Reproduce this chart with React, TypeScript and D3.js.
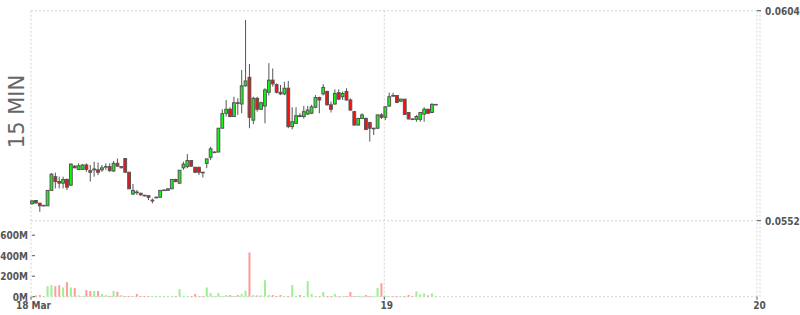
import React from "react";
import * as d3 from "d3";

// ---- data ----
const START = new Date(2024, 2, 18, 1, 15);
const END = new Date(2024, 2, 20, 0, 0);
const STEP_MINUTES = 15;

const open = [
  0.05562, 0.0557, 0.05563, 0.05557, 0.05557, 0.05595, 0.05629, 0.05617, 0.05613, 0.05622,
  0.05608, 0.05655, 0.05647, 0.05647, 0.05658, 0.05644, 0.05646, 0.05646, 0.05646, 0.05653,
  0.05654, 0.05643, 0.05662, 0.05651, 0.05674, 0.0564, 0.05586, 0.05591, 0.05588, 0.05583,
  0.05582, 0.05569, 0.05577, 0.05578, 0.05595, 0.05595, 0.05599, 0.05622, 0.05613, 0.05651,
  0.05654, 0.05669, 0.05652, 0.05652, 0.0564, 0.05662, 0.05677, 0.05689, 0.0569, 0.05749,
  0.05786, 0.05796, 0.05778, 0.05812, 0.05809, 0.05854, 0.05875, 0.05769, 0.05823, 0.05796,
  0.05804, 0.05838, 0.05868, 0.05857, 0.05838, 0.05834, 0.05848, 0.05753, 0.05761, 0.0578,
  0.05778, 0.05784, 0.05786, 0.05801, 0.05825, 0.05834, 0.0584, 0.05807, 0.05809, 0.05837,
  0.05827, 0.0584, 0.05819, 0.0579, 0.05757, 0.05773, 0.05773, 0.05763, 0.05748, 0.05749,
  0.05782, 0.05776, 0.05804, 0.0583, 0.0583, 0.05816, 0.05821, 0.05788, 0.05772, 0.05771,
  0.05771, 0.05784, 0.05796, 0.05788, 0.05808,
];
const high = [
  0.05571, 0.05571, 0.05565, 0.05559, 0.05595, 0.05638, 0.05639, 0.05629, 0.05629, 0.05625,
  0.05662, 0.05658, 0.05662, 0.0566, 0.05662, 0.05658, 0.05666, 0.05664, 0.05658, 0.05662,
  0.05662, 0.05668, 0.05674, 0.05655, 0.05674, 0.0564, 0.05611, 0.05596, 0.05589, 0.05584,
  0.05582, 0.05575, 0.0558, 0.05595, 0.05597, 0.056, 0.05622, 0.05624, 0.05645, 0.05666,
  0.05685, 0.0567, 0.05654, 0.05654, 0.05641, 0.05674, 0.05703, 0.05692, 0.05749, 0.05796,
  0.05819, 0.05801, 0.05827, 0.05823, 0.05893, 0.06017, 0.05908, 0.05827, 0.05827, 0.05815,
  0.05848, 0.0591, 0.05897, 0.0586, 0.05856, 0.05864, 0.05866, 0.05801, 0.05801, 0.05786,
  0.05804, 0.05804, 0.05807, 0.05831, 0.05827, 0.05858, 0.05842, 0.05815, 0.05845, 0.05845,
  0.0584, 0.05848, 0.05823, 0.05792, 0.05775, 0.05786, 0.05776, 0.05765, 0.0575, 0.05782,
  0.05786, 0.05804, 0.05837, 0.05837, 0.05831, 0.05822, 0.05821, 0.05788, 0.05773, 0.05782,
  0.05788, 0.05801, 0.05797, 0.05811, 0.05809,
];
const low = [
  0.0556, 0.05562, 0.05542, 0.05556, 0.05557, 0.05595, 0.056, 0.056, 0.056, 0.05596,
  0.05606, 0.0565, 0.05646, 0.05647, 0.05641, 0.05617, 0.05629, 0.05633, 0.05641, 0.05646,
  0.05641, 0.05641, 0.05654, 0.0565, 0.0564, 0.05599, 0.05584, 0.05584, 0.05582, 0.0558,
  0.05571, 0.05563, 0.05576, 0.05578, 0.05594, 0.05594, 0.05599, 0.05615, 0.05611, 0.05646,
  0.0565, 0.05654, 0.05638, 0.05633, 0.05627, 0.0565, 0.0567, 0.05688, 0.0569, 0.05749,
  0.05778, 0.05776, 0.05778, 0.05782, 0.05786, 0.05852, 0.05749, 0.05759, 0.0579, 0.05794,
  0.05761, 0.0583, 0.05852, 0.05835, 0.05831, 0.05831, 0.05749, 0.05746, 0.05761, 0.05776,
  0.05773, 0.05782, 0.05784, 0.05798, 0.05786, 0.0583, 0.05805, 0.05788, 0.05807, 0.05819,
  0.05819, 0.05817, 0.05792, 0.05755, 0.05755, 0.05772, 0.05745, 0.05716, 0.05732, 0.05747,
  0.05772, 0.05769, 0.05802, 0.05827, 0.05811, 0.05814, 0.05783, 0.05771, 0.05769, 0.05765,
  0.05765, 0.05765, 0.05784, 0.05786, 0.05807,
];
const close = [
  0.05569, 0.05564, 0.05557, 0.05558, 0.05595, 0.05635, 0.05617, 0.05613, 0.05622, 0.05603,
  0.0566, 0.05651, 0.05656, 0.05658, 0.05647, 0.0564, 0.05648, 0.0564, 0.05651, 0.05654,
  0.05644, 0.05662, 0.05655, 0.05654, 0.0564, 0.05599, 0.05595, 0.0559, 0.05584, 0.05582,
  0.05578, 0.05571, 0.05578, 0.05595, 0.05596, 0.05599, 0.05622, 0.05617, 0.05645, 0.0566,
  0.05669, 0.05655, 0.0564, 0.0564, 0.05639, 0.05673, 0.05698, 0.0569, 0.05749, 0.05785,
  0.05796, 0.05778, 0.05812, 0.05811, 0.05854, 0.05866, 0.05776, 0.05823, 0.05796, 0.05812,
  0.05844, 0.05868, 0.05859, 0.05838, 0.05834, 0.05848, 0.05753, 0.05765, 0.0578, 0.05778,
  0.0579, 0.05794, 0.05802, 0.05825, 0.05819, 0.0585, 0.05807, 0.05796, 0.05835, 0.05821,
  0.05835, 0.05819, 0.05794, 0.05757, 0.05773, 0.05782, 0.05746, 0.05749, 0.05749, 0.05782,
  0.05776, 0.05802, 0.05827, 0.05829, 0.05813, 0.05821, 0.05783, 0.05772, 0.05771, 0.05778,
  0.05788, 0.05796, 0.05786, 0.05808, 0.05808,
];
// volume in millions
const volumeM = [
  3, 13, 16, 6, 103, 113, 103, 113, 90, 142,
  90, 84, 13, 6, 65, 55, 55, 55, 26, 16,
  6, 55, 48, 16, 6, 6, 6, 26, 6, 6,
  6, 6, 3, 6, 3, 6, 6, 6, 74, 3,
  3, 3, 26, 3, 3, 90, 35, 6, 35, 6,
  16, 16, 6, 16, 26, 58, 432, 16, 13, 13,
  161, 16, 16, 6, 16, 6, 6, 113, 6, 16,
  6, 152, 26, 6, 3, 45, 3, 3, 26, 3,
  3, 6, 45, 6, 6, 3, 16, 6, 3, 84,
  132, 6, 3, 3, 3, 3, 3, 16, 6, 52,
  23, 32, 13, 32, 3,
];

const priceTicks = [0.0552, 0.0604];
const volumeTicks = [0, 200, 400, 600];
const dateTicks = [new Date(2024, 2, 18, 1, 15), new Date(2024, 2, 19), new Date(2024, 2, 20)];
const dateLabels = ["18 Mar", "19", "20"];
const sideLabel = "15 MIN";

// ---- layout ----
const W = 800;
const H = 315;
const LEFT = 31;
const RIGHT = 757;
const PRICE_TOP = 10.7;
const PRICE_BOTTOM = 220.7;
const VOL_BOTTOM = 296.7;
const VOL_600 = 235.2;

const GRID = "#d4d4d4";
const AXIS_TEXT = "#555555";
const UP = "#14f514";
const DOWN = "#f51010";
const VOL_UP = "#98f28e";
const VOL_DOWN = "#ff9b9b";
const OUTLINE = "#555555";
const FONT = "'DejaVu Sans Condensed', 'DejaVu Sans', sans-serif";

export default function App() {
  const x = d3.scaleTime().domain([START, END]).range([LEFT, RIGHT]);
  const y = d3.scaleLinear().domain([priceTicks[0], priceTicks[1]]).range([PRICE_BOTTOM, PRICE_TOP]);
  const yv = d3.scaleLinear().domain([0, 600]).range([VOL_BOTTOM, VOL_600]);

  const candles = open.map((o, i) => {
    const t = d3.timeMinute.offset(START, i * STEP_MINUTES);
    return { t, o, h: high[i], l: low[i], c: close[i], v: volumeM[i] };
  });
  const slot = x(d3.timeMinute.offset(START, STEP_MINUTES)) - x(START);
  const bodyW = 2.8;

  const dash = "2,2";

  return (
    <svg
      width={W}
      height={H}
      style={{ position: "absolute", left: 0, top: 0, display: "block", background: "#fff" }}
    >
      {/* grid / frame */}
      <g stroke={GRID} strokeWidth={1} strokeDasharray={dash} fill="none">
        <line x1={LEFT} x2={RIGHT} y1={y(priceTicks[1])} y2={y(priceTicks[1])} />
        <line x1={LEFT} x2={RIGHT} y1={y(priceTicks[0])} y2={y(priceTicks[0])} />
        <line x1={LEFT} x2={RIGHT} y1={yv(0)} y2={yv(0)} />
        <line x1={LEFT} x2={LEFT} y1={PRICE_TOP} y2={VOL_BOTTOM} />
        <line x1={RIGHT} x2={RIGHT} y1={PRICE_TOP} y2={VOL_BOTTOM} />
        <line x1={RIGHT + 3} x2={RIGHT + 3} y1={PRICE_TOP} y2={VOL_BOTTOM} />
        {dateTicks.slice(1, 2).map((d, i) => (
          <line key={i} x1={x(d)} x2={x(d)} y1={PRICE_TOP} y2={VOL_BOTTOM} />
        ))}
      </g>

      {/* side label */}
      <text
        transform={`translate(24, 111.5) rotate(-90)`}
        textAnchor="middle"
        fontFamily="'DejaVu Sans', sans-serif"
        fontSize={21}
        fill="#666"
      >
        {sideLabel}
      </text>

      {/* price axis */}
      {priceTicks.map((p, i) => (
        <g key={i}>
          <line x1={RIGHT} x2={RIGHT + 4} y1={y(p)} y2={y(p)} stroke={AXIS_TEXT} />
          <text
            x={RIGHT + 8}
            y={y(p) + 4}
            fontFamily={FONT}
            fontWeight="bold"
            fontSize={10}
            fill={AXIS_TEXT}
          >
            {p.toFixed(4)}
          </text>
        </g>
      ))}

      {/* volume axis */}
      {volumeTicks.map((v, i) => (
        <g key={i}>
          <line x1={LEFT + 1} x2={LEFT + 4} y1={yv(v)} y2={yv(v)} stroke={AXIS_TEXT} />
          <text
            x={LEFT - 3}
            y={yv(v) + 4}
            textAnchor="end"
            fontFamily={FONT}
            fontWeight="bold"
            fontSize={10}
            fill={AXIS_TEXT}
          >
            {`${v}M`}
          </text>
        </g>
      ))}

      {/* date axis */}
      {dateTicks.map((d, i) => (
        <g key={i}>
          <line x1={x(d)} x2={x(d)} y1={VOL_BOTTOM} y2={VOL_BOTTOM + 3} stroke={AXIS_TEXT} />
          <text
            x={x(d) + 2.5}
            y={309}
            textAnchor="middle"
            fontFamily={FONT}
            fontWeight="bold"
            fontSize={10}
            fill={AXIS_TEXT}
          >
            {dateLabels[i]}
          </text>
        </g>
      ))}

      {/* volume bars */}
      <g>
        {candles.map((d, i) => {
          const cx = x(d.t) + slot / 2 - 0.9;
          const top = yv(d.v);
          return (
            <rect
              key={i}
              x={cx - 1}
              y={top}
              width={2}
              height={Math.max(0.8, yv(0) - top)}
              fill={d.c >= d.o ? VOL_UP : VOL_DOWN}
            />
          );
        })}
      </g>

      {/* candles */}
      <g>
        {candles.map((d, i) => {
          const cx = x(d.t) + slot / 2 - 0.9;
          const yTop = y(Math.max(d.o, d.c));
          const yBot = y(Math.min(d.o, d.c));
          const bh = Math.max(0.6, yBot - yTop);
          return (
            <g key={i}>
              <line x1={cx} x2={cx} y1={y(d.h)} y2={y(d.l)} stroke={OUTLINE} strokeWidth={1} />
              <rect
                x={cx - bodyW / 2}
                y={yTop}
                width={bodyW}
                height={bh}
                fill={d.c >= d.o ? UP : DOWN}
                stroke={OUTLINE}
                strokeWidth={1}
              />
            </g>
          );
        })}
      </g>
    </svg>
  );
}
